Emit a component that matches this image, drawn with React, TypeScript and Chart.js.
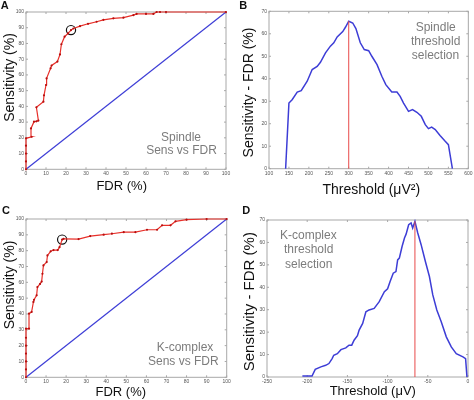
import { useEffect, useRef } from 'react';
import { Chart, registerables } from 'chart.js';

Chart.register(...registerables);

// A: spindle ROC, FDR (%) vs sensitivity (%)
const spindleFdr = [0, 0, 0, 0, 0, 2.8, 2.5, 4, 5.2, 6.2, 5.2, 8.7, 9, 10, 10.3, 12.3, 12.8, 15.7, 17, 17.7, 19.3, 21, 22.5, 23.7, 27, 31, 35.3, 38.7, 43.7, 48.7, 53.7, 55.3, 60, 63.7, 65.3, 67, 70, 100];
const spindleSens = [0, 5, 10, 15, 19.7, 20.7, 26, 30.3, 30.5, 31, 39.4, 43, 47, 53.6, 57.8, 64.2, 66, 68.5, 73, 79.5, 84.3, 86.4, 88.5, 89.5, 91, 92.5, 93.8, 95, 96, 96.4, 98, 98.8, 98.8, 98.8, 100, 100, 100, 100];
const spindleBest = [22.5, 88.5];

// B: spindle threshold (µV²) vs sensitivity - FDR (%)
const spindleThreshold = [141.7, 150, 158, 170.8, 180.8, 195.8, 208.3, 220.8, 229, 241.7, 254, 262.5, 271, 285, 291.7, 300, 310, 318, 329, 339, 350, 358, 371, 383, 393, 408, 421, 429, 437.5, 450, 460, 471, 482, 492, 500, 508, 517, 529, 542, 550, 560];
const spindleDiff = [0, 29.2, 30.7, 34.1, 34.7, 38.9, 44.1, 45.5, 47.3, 51.5, 54.5, 56, 58.6, 61, 62.9, 65.6, 64.8, 62.3, 56, 53, 52.5, 50, 46.3, 41.1, 37.4, 34.1, 34.1, 32.2, 29.2, 25.5, 26.3, 25.1, 23.3, 19.6, 17.8, 18.5, 17.4, 14.8, 12.2, 10.7, 0];
const spindleBestThreshold = [300, 300];
const spindleBestLine = [0, 65.6];

// C: K-complex ROC
const kcFdr = [0, 0, 0, 0, 0, 0, 0, 1.5, 1.5, 2.8, 3.7, 4, 5.3, 5.7, 7, 7.8, 8.2, 8.7, 10.3, 10.7, 12.3, 13.7, 15.8, 16.7, 18, 18.7, 26.2, 32, 38.7, 42.8, 48.7, 54.5, 60.3, 65.3, 67.8, 72, 74.5, 80, 90, 100];
const kcSens = [0, 5, 10, 15, 20, 25, 30.7, 30.7, 40.2, 41.3, 47.6, 49, 51.8, 57, 59, 60.5, 65.4, 70.7, 72.8, 77, 79.6, 80.4, 80.4, 82.2, 87, 87.5, 87.3, 89.2, 90.1, 90.7, 91.7, 91.7, 93.2, 93.2, 96, 96, 98.5, 99.6, 100, 100];
const kcBest = [18, 87];

// D: K-complex threshold (µV) vs sensitivity - FDR (%)
const kcThreshold = [-206, -194, -190, -183, -177, -173, -169, -167, -162.5, -158, -152, -148, -144.6, -141.7, -137.5, -135.4, -131, -127, -123, -116.7, -110.4, -104, -100, -97, -93, -89.6, -87.5, -85.4, -82, -79, -77, -73.8, -70.8, -68.8, -66, -62.5, -58.3, -53, -48, -43.8, -38.8, -33.3, -27, -20.8, -14.6, -6.3, -3, -1.3];
const kcDiff = [0.4, 0.4, 3.4, 4.5, 5.2, 6, 8.2, 9.7, 10.4, 12.2, 13, 14.2, 14.2, 16.4, 18.4, 20.9, 23.9, 29.1, 29.9, 30.6, 33.6, 38, 39.3, 42.5, 46.3, 47, 52.2, 53, 58.2, 62, 63.7, 67.9, 68.7, 66.4, 69.4, 64.2, 59, 51.5, 44.8, 36.6, 29.9, 24.6, 17.9, 13.4, 10.4, 9, 8.2, 0];
const kcBestThreshold = [-66, -66];
const kcBestLine = [0, 69.4];

// chance diagonal on the ROC panels
const chanceLine = [0, 100];

// axis ranges: [min, max, step]
const rocAxis = [0, 100, 10];
const spindleThrAxis = [100, 600, 50];
const kcThrAxis = [-250, 0, 50];
const diffAxis = [0, 70, 10];

const FONT = '"Liberation Sans", Arial, Helvetica, sans-serif';
const RED = '#e8302a';
const DARK_RED = '#b80f0f';
const BLUE = '#3d3dd6';
const W = 237;
const H = 200;

type TextItem = { text: string; x: number; y: number; size: number; bold?: boolean; color?: string; rotate?: boolean };
type Area = { left: number; top: number; right: number; bottom: number };

const toPoints = (xs: number[], ys: number[]) => xs.map((x, i) => ({ x, y: ys[i] }));

// light grey box with short inward ticks on all four sides
const framePlugin = {
    id: 'frame',
    beforeDatasetsDraw(chart: any) {
        const { ctx, chartArea: a, scales } = chart;
        ctx.save();
        ctx.strokeStyle = '#a8a8a8';
        ctx.lineWidth = 1;
        ctx.strokeRect(a.left, a.top, a.right - a.left, a.bottom - a.top);
        ctx.beginPath();
        scales.x.ticks.forEach((t: any) => {
            const px = scales.x.getPixelForValue(t.value);
            ctx.moveTo(px, a.bottom); ctx.lineTo(px, a.bottom - 2);
            ctx.moveTo(px, a.top); ctx.lineTo(px, a.top + 2);
        });
        scales.y.ticks.forEach((t: any) => {
            const py = scales.y.getPixelForValue(t.value);
            ctx.moveTo(a.left, py); ctx.lineTo(a.left + 2, py);
            ctx.moveTo(a.right, py); ctx.lineTo(a.right - 2, py);
        });
        ctx.stroke();
        ctx.restore();
    },
};

const textPlugin = (items: TextItem[]) => ({
    id: 'panelText',
    afterDraw(chart: any) {
        const ctx = chart.ctx;
        items.forEach((t) => {
            ctx.save();
            ctx.font = `${t.bold ? 'bold ' : ''}${t.size}px ${FONT}`;
            ctx.fillStyle = t.color ?? '#111';
            ctx.textAlign = 'center';
            ctx.textBaseline = 'middle';
            ctx.translate(t.x, t.y);
            if (t.rotate) ctx.rotate(-Math.PI / 2);
            ctx.fillText(t.text, 0, 0);
            ctx.restore();
        });
    },
});

const rocDatasets = (fdr: number[], sens: number[], best: number[]) => [
    {
        data: toPoints(fdr, sens), showLine: true, borderColor: RED, borderWidth: 1.2,
        pointRadius: 1.1, pointBackgroundColor: DARK_RED, pointBorderWidth: 0, clip: 3,
    },
    {
        data: toPoints(chanceLine, chanceLine), showLine: true, borderColor: BLUE, borderWidth: 1.2,
        pointRadius: 0, clip: 3,
    },
    {
        data: [{ x: best[0], y: best[1] }], showLine: false, pointRadius: 4.6,
        pointBorderColor: '#111', pointBorderWidth: 1.2, pointBackgroundColor: 'rgba(0,0,0,0)', clip: 6,
    },
];

const thresholdDatasets = (thr: number[], diff: number[], bestX: number[], bestY: number[]) => [
    {
        data: toPoints(bestX, bestY), showLine: true, borderColor: '#e84a4a', borderWidth: 1,
        pointRadius: 0, clip: 3,
    },
    {
        data: toPoints(thr, diff), showLine: true, borderColor: BLUE, borderWidth: 1.5,
        pointRadius: 0, clip: 3,
    },
];

const Panel = ({ left, top, area, xAxis, yAxis, datasets, texts }: {
    left: number; top: number; area: Area; xAxis: number[]; yAxis: number[]; datasets: any[]; texts: TextItem[];
}) => {
    const chartRef = useRef<HTMLCanvasElement | null>(null);

    useEffect(() => {
        if (!chartRef.current) return;
        const tickFont = { family: FONT, size: 5 };
        const chart = new Chart(chartRef.current, {
            type: 'scatter',
            data: { datasets },
            options: {
                responsive: false,
                animation: false,
                events: [],
                layout: { padding: { left: 0, top: area.top, right: W - area.right, bottom: 0 } },
                plugins: { legend: { display: false }, tooltip: { enabled: false } },
                scales: {
                    x: {
                        type: 'linear', min: xAxis[0], max: xAxis[1],
                        ticks: { stepSize: xAxis[2], font: tickFont, color: '#555', padding: 1.5, maxRotation: 0, autoSkip: false },
                        grid: { display: false, drawTicks: false }, border: { display: false },
                        afterFit: (s: any) => { s.height = H - area.bottom; },
                    },
                    y: {
                        type: 'linear', min: yAxis[0], max: yAxis[1],
                        ticks: { stepSize: yAxis[2], font: tickFont, color: '#555', padding: 2, autoSkip: false },
                        grid: { display: false, drawTicks: false }, border: { display: false },
                        afterFit: (s: any) => { s.width = area.left; },
                    },
                },
            } as any,
            plugins: [framePlugin, textPlugin(texts)],
        });
        return () => chart.destroy();
    }, []);

    return (
        <canvas ref={chartRef} width={W} height={H}
            style={{ position: 'absolute', left, top, width: W, height: H }} />
    );
};

const GRAY = '#7c7c7c';

export default function App() {
    return (
        <div style={{ position: 'fixed', left: 0, top: 0, width: 474, height: 400, background: '#fff' }}>
            <Panel left={0} top={0} area={{ left: 26, top: 12, right: 226, bottom: 169.3 }}
                xAxis={rocAxis} yAxis={rocAxis}
                datasets={rocDatasets(spindleFdr, spindleSens, spindleBest)}
                texts={[
                    { text: 'A', x: 4.7, y: 5.5, size: 11, bold: true },
                    { text: 'Sensitivity (%)', x: 9.7, y: 77.5, size: 14, rotate: true },
                    { text: 'FDR (%)', x: 121.7, y: 186.7, size: 13 },
                    { text: 'Spindle', x: 181, y: 137.5, size: 12, color: GRAY },
                    { text: 'Sens vs FDR', x: 181.5, y: 150.5, size: 12, color: GRAY },
                ]} />
            <Panel left={237} top={0} area={{ left: 32, top: 11.3, right: 232, bottom: 168.7 }}
                xAxis={spindleThrAxis} yAxis={diffAxis}
                datasets={thresholdDatasets(spindleThreshold, spindleDiff, spindleBestThreshold, spindleBestLine)}
                texts={[
                    { text: 'B', x: 6.3, y: 5.5, size: 11, bold: true },
                    { text: 'Sensitivity - FDR (%)', x: 11.8, y: 92.5, size: 14, rotate: true },
                    { text: 'Threshold (\u03bcV\u00b2)', x: 134.3, y: 190, size: 14 },
                    { text: 'Spindle', x: 198.7, y: 28, size: 12, color: GRAY },
                    { text: 'threshold', x: 198.7, y: 42, size: 12, color: GRAY },
                    { text: 'selection', x: 198.5, y: 55.3, size: 12, color: GRAY },
                ]} />
            <Panel left={0} top={200} area={{ left: 26, top: 19, right: 226.7, bottom: 177.3 }}
                xAxis={rocAxis} yAxis={rocAxis}
                datasets={rocDatasets(kcFdr, kcSens, kcBest)}
                texts={[
                    { text: 'C', x: 6, y: 11.2, size: 11, bold: true },
                    { text: 'Sensitivity (%)', x: 9.7, y: 85, size: 14, rotate: true },
                    { text: 'FDR (%)', x: 120.8, y: 192.5, size: 13 },
                    { text: 'K-complex', x: 185, y: 147.5, size: 12, color: GRAY },
                    { text: 'Sens vs FDR', x: 183.3, y: 161.7, size: 12, color: GRAY },
                ]} />
            <Panel left={237} top={200} area={{ left: 30, top: 20, right: 231, bottom: 177 }}
                xAxis={kcThrAxis} yAxis={diffAxis}
                datasets={thresholdDatasets(kcThreshold, kcDiff, kcBestThreshold, kcBestLine)}
                texts={[
                    { text: 'D', x: 9.3, y: 11.2, size: 11, bold: true },
                    { text: 'Sensitivity - FDR (%)', x: 13, y: 101.7, size: 15, rotate: true },
                    { text: 'Threshold (\u03bcV)', x: 135.8, y: 191, size: 13 },
                    { text: 'K-complex', x: 71.3, y: 35.3, size: 12, color: GRAY },
                    { text: 'threshold', x: 71.7, y: 49.2, size: 12, color: GRAY },
                    { text: 'selection', x: 71.7, y: 64.2, size: 12, color: GRAY },
                ]} />
        </div>
    );
}
